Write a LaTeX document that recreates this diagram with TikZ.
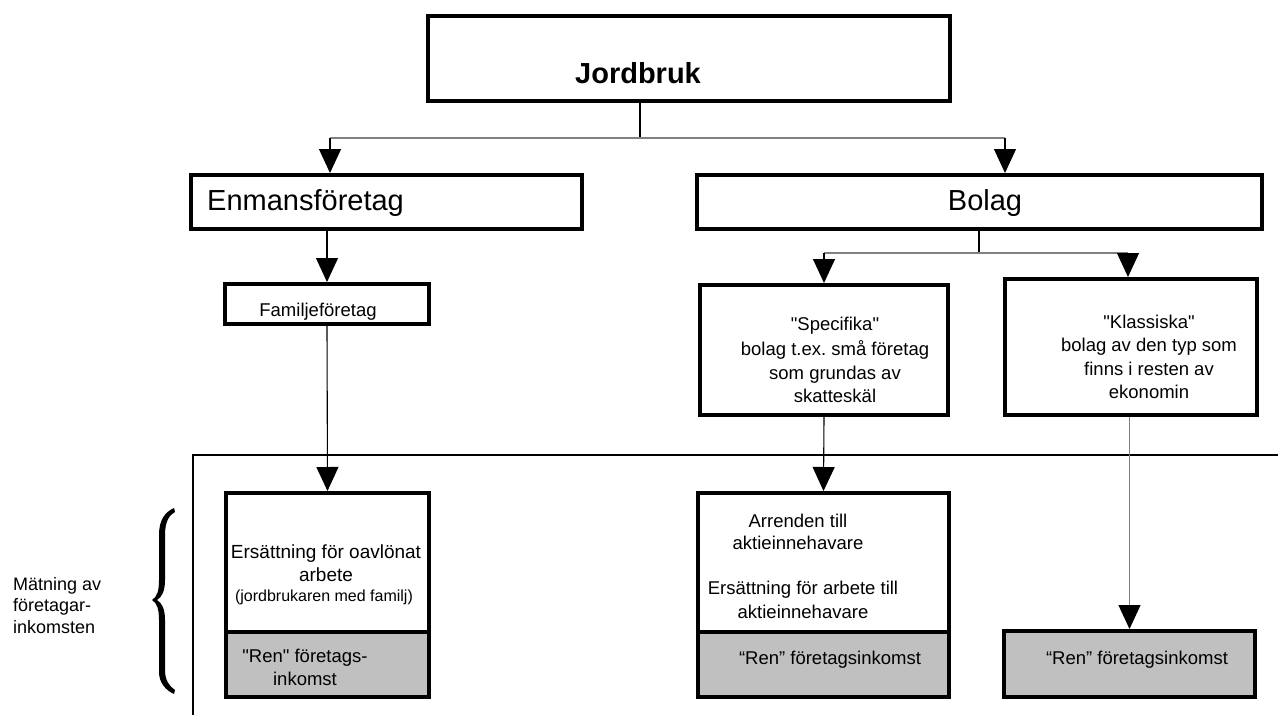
\documentclass[tikz,border=0pt]{standalone}
\usepackage{fontspec}
\setmainfont{Liberation Sans}[Ligatures=TeXOff]
\usetikzlibrary{arrows.meta}
\definecolor{boxgray}{RGB}{192,192,192}
\definecolor{linegray}{RGB}{128,128,128}
\newcommand\myfs[2]{\fontsize{#1}{#2}\selectfont}
\frenchspacing
\begin{document}
\begin{tikzpicture}[x=1pt,y=-1pt,
  box/.style={draw, line width=4pt, inner sep=0pt, rectangle, fill=white},
  graybox/.style={box, fill=boxgray},
  txt/.style={inner sep=0pt, align=center, font=\myfs{18.5}{23}},
  conn/.style={line width=1.1pt, black},
  conng/.style={line width=1.1pt, linegray},
  arr/.style={conn, -{Triangle[width=22pt,length=24pt,color=black]}},
  arrg/.style={conng, -{Triangle[width=22pt,length=24pt,color=black]}}
]
\useasboundingbox (0,0) rectangle (1278,715);

% frame
\draw[line width=2pt] (1278,455) -| (193,715);

% brace
\fill[black] (174,508) .. controls (165,512) and (159,520) .. (159,535) -- (159,580)
  .. controls (159,591) and (157,597) .. (152,600)
  .. controls (157,603) and (159,609) .. (159,620) -- (159,672)
  .. controls (159,682) and (165,690) .. (174,694) -- (175,690)
  .. controls (169,686) and (165,680) .. (165,670) -- (165,620)
  .. controls (165,609) and (162,603) .. (157,600)
  .. controls (162,597) and (165,591) .. (165,580) -- (165,535)
  .. controls (165,522) and (169,515) .. (175,512) -- cycle;

\node[inner sep=0pt, anchor=north west, align=left, font=\myfs{18}{21.5}] (mat) at (13,577)
  {Mätning av\\företagar-\\inkomsten};

% boxes
\node[box, minimum width=522pt, minimum height=85pt] (J) at (689,58.5) {};
\node[inner sep=0pt, font=\myfs{29}{34}\bfseries] (Jt) at (638,73) {Jordbruk};

\node[box, minimum width=391pt, minimum height=54pt] (E) at (386.5,202) {};
\node[inner sep=0pt, anchor=west, font=\myfs{29}{34}] (Et) at (207,203) {Enmansföretag};

\node[box, minimum width=565pt, minimum height=54pt] (B) at (979.5,202) {};
\node[inner sep=0pt, font=\myfs{29}{34}] (Bt) at (985,203) {Bolag};

\node[box, minimum width=204pt, minimum height=40pt] (F) at (327,304) {};
\node[txt] (Ft) at (318,312) {Familjeföretag};

\node[box, minimum width=248pt, minimum height=130pt] (S) at (824,350) {};
\node[txt, font=\myfs{18.5}{23.5}] (St) at (835,360) {"Specifika"\\[2pt]bolag t.ex. små företag\\som grundas av\\skatteskäl};

\node[box, minimum width=252pt, minimum height=136pt] (K) at (1131,347) {};
\node[txt, font=\myfs{18.5}{23.3}] (Kt) at (1149,357) {"Klassiska"\\bolag av den typ som\\finns i resten av\\ekonomin};

\node[box, minimum width=203pt, minimum height=139pt] (U1) at (327.5,562.5) {};
\node[graybox, minimum width=203pt, minimum height=65pt] (G1) at (327.5,664.5) {};
\node[txt, font=\myfs{19}{23}] (U1a) at (326,563) {Ersättning för oavlönat\\arbete};
\node[txt, font=\myfs{16}{20}] (U1b) at (324,597) {(jordbrukaren med familj)};
\node[txt] (G1t) at (305,667) {"Ren" företags-\\inkomst};

\node[box, minimum width=251pt, minimum height=139pt] (U2) at (823.5,562.5) {};
\node[graybox, minimum width=251pt, minimum height=65pt] (G2) at (823.5,664.5) {};
\node[txt, font=\myfs{18.5}{21.5}] (U2a) at (798,532) {Arrenden till\\aktieinnehavare};
\node[txt, font=\myfs{18.5}{23.5}] (U2b) at (803,600) {Ersättning för arbete till\\aktieinnehavare};
\node[txt] (G2t) at (830,660) {“Ren” företagsinkomst};

\node[graybox, minimum width=251pt, minimum height=66pt] (G3) at (1129.5,664) {};
\node[txt] (G3t) at (1137,660) {“Ren” företagsinkomst};

% connectors
\coordinate (js) at (640,138);
\coordinate (jl) at (330,138);
\coordinate (jr) at (1005,138);
\draw[conn] (js |- J.south) -- (js);
\draw[conng] (jl) -- (jr);
\draw[arr] (jl) -- (jl |- E.north);
\draw[arr] (jr) -- (jr |- B.north);

\draw[arr] (F.north |- E.south) -- (F.north);
\draw[arr] (F.south) -- (U1.north);

\coordinate (bs) at (979,253);
\coordinate (bl) at (824,253);
\coordinate (br) at (1128,253);
\draw[conn] (bs |- B.south) -- (bs);
\draw[conng] (bl) -- (br);
\draw[arr] (bl) -- (S.north);
\draw[arr] (br) -- (br |- K.north);

\draw[arr] (S.south) -- (U2.north);
\draw[arrg] (G3.north |- K.south) -- (G3.north);
\end{tikzpicture}
\end{document}
